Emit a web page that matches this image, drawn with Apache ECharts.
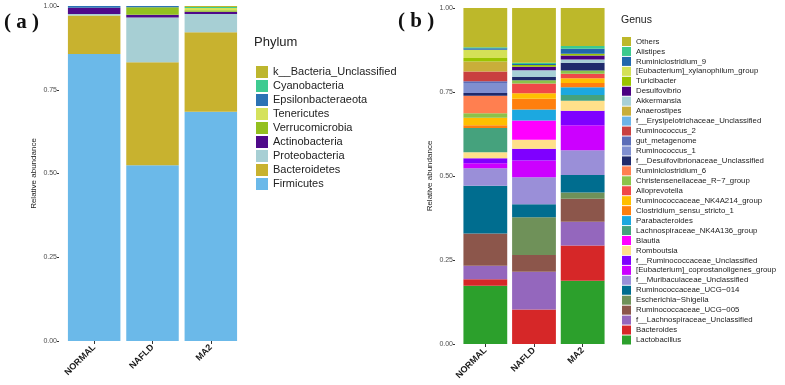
<!DOCTYPE html>
<html>
<head>
<meta charset="utf-8">
<script src="https://cdn.jsdelivr.net/npm/echarts@6/dist/echarts.min.js"></script>
<style>
  html, body { margin: 0; padding: 0; background: #fff; }
  #chart { width: 785px; height: 385px; }
</style>
</head>
<body>
<div id="chart"></div>
<script>
// stacked relative-abundance bars: (a) phylum, (b) genus
const groups = ['NORMAL', 'NAFLD', 'MA2'];
const yTicks = [0, 0.25, 0.5, 0.75, 1];

// ── phylum (bottom of stack first) ────────────────────────────────────
const phylumNames = [
  'Firmicutes', 'Bacteroidetes', 'Proteobacteria', 'Actinobacteria', 'Verrucomicrobia',
  'Tenericutes', 'Epsilonbacteraeota', 'Cyanobacteria', 'k__Bacteria_Unclassified',
];
const phylumColors = [
  '#6bb9e9', '#c8b22f', '#a7cfd4', '#4f0a8a', '#93c01f',
  '#d5e25c', '#2b73b4', '#3ecb91', '#bdb62e',
];
const phylumValues = [
  [0.857, 0.525, 0.684],
  [0.115, 0.307, 0.238],
  [0.004, 0.134, 0.054],
  [0.019, 0.008, 0.007],
  [0.000, 0.022, 0.004],
  [0.000, 0.000, 0.007],
  [0.005, 0.004, 0.000],
  [0.000, 0.000, 0.003],
  [0.000, 0.000, 0.003],
];

// ── genus (bottom of stack first) ─────────────────────────────────────
const genusNames = [
  'Lactobacillus', 'Bacteroides', 'f__Lachnospiraceae_Unclassified', 'Ruminococcaceae_UCG\u2212005',
  'Escherichia\u2212Shigella', 'Ruminococcaceae_UCG\u2212014', 'f__Muribaculaceae_Unclassified',
  '[Eubacterium]_coprostanoligenes_group', 'f__Ruminococcaceae_Unclassified', 'Romboutsia', 'Blautia',
  'Lachnospiraceae_NK4A136_group', 'Parabacteroides', 'Clostridium_sensu_stricto_1',
  'Ruminococcaceae_NK4A214_group', 'Alloprevotella', 'Christensenellaceae_R\u22127_group',
  'Ruminiclostridium_6', 'f__Desulfovibrionaceae_Unclassified', 'Ruminococcus_1', 'gut_metagenome',
  'Ruminococcus_2', 'f__Erysipelotrichaceae_Unclassified', 'Anaerostipes', 'Akkermansia',
  'Desulfovibrio', 'Turicibacter', '[Eubacterium]_xylanophilum_group', 'Ruminiclostridium_9',
  'Alistipes', 'Others',
];
const genusColors = [
  '#2ca02c', '#d62728', '#9467bd', '#8c564b',
  '#6f9159', '#006d8f', '#9a8fd8',
  '#cc00ff', '#7f00ff', '#ffe08a', '#ff00ff',
  '#45a27d', '#1ca8e0', '#ff7f0e',
  '#ffbf00', '#f04848', '#8bc34a',
  '#ff7f50', '#1f2a6b', '#7f8fd0', '#5b6db8',
  '#c94040', '#6cb4e8', '#c9ae3a', '#a8d0d6',
  '#4b0082', '#9ac400', '#d4e157', '#2166ac',
  '#3cc98e', '#bdb82a',
];
const genusValues = [
  [0.173, 0.000, 0.188],
  [0.020, 0.103, 0.105],
  [0.040, 0.112, 0.071],
  [0.096, 0.050, 0.068],
  [0.000, 0.112, 0.019],
  [0.142, 0.039, 0.052],
  [0.052, 0.080, 0.074],
  [0.015, 0.050, 0.074],
  [0.015, 0.035, 0.043],
  [0.018, 0.027, 0.030],
  [0.000, 0.057, 0.000],
  [0.072, 0.000, 0.017],
  [0.000, 0.033, 0.023],
  [0.008, 0.032, 0.013],
  [0.022, 0.016, 0.014],
  [0.000, 0.029, 0.013],
  [0.014, 0.010, 0.010],
  [0.052, 0.000, 0.000],
  [0.008, 0.010, 0.023],
  [0.030, 0.000, 0.000],
  [0.005, 0.000, 0.000],
  [0.029, 0.000, 0.000],
  [0.000, 0.000, 0.000],
  [0.030, 0.000, 0.000],
  [0.000, 0.020, 0.010],
  [0.000, 0.010, 0.012],
  [0.010, 0.005, 0.005],
  [0.025, 0.000, 0.000],
  [0.004, 0.003, 0.015],
  [0.003, 0.004, 0.008],
  [0.118, 0.163, 0.114],
];

const FONT = 'Liberation Sans, Arial, sans-serif';
const axisClr = '#4d4d4d';

function xAxisFor(gridIndex) {
  return {
    type: 'category', gridIndex, data: groups,
    axisLine: { show: false },
    axisTick: { show: true, alignWithLabel: true, length: 3, lineStyle: { color: '#333' } },
    axisLabel: { rotate: 45, margin: 5, fontSize: 9, fontWeight: 'bold', color: '#1a1a1a', fontFamily: FONT },
  };
}
function yAxisFor(gridIndex) {
  return {
    type: 'value', gridIndex, min: 0, max: 1, interval: 0.25, offset: 6,
    name: 'Relative abundance', nameLocation: 'middle', nameGap: 21,
    nameTextStyle: { fontSize: 8, color: '#222', fontFamily: FONT },
    axisLine: { show: false },
    axisTick: { show: true, length: 2, lineStyle: { color: '#333' } },
    axisLabel: { fontSize: 7, color: axisClr, margin: 2, fontFamily: FONT,
                 formatter: v => yTicks.includes(v) ? v.toFixed(2) : '' },
    splitLine: { show: false },
  };
}

const series = [];
phylumNames.forEach((n, i) => series.push({
  name: n, type: 'bar', stack: 'phylum', xAxisIndex: 0, yAxisIndex: 0,
  data: phylumValues[i], itemStyle: { color: phylumColors[i] },
  barCategoryGap: '10%',
}));
genusNames.forEach((n, i) => series.push({
  name: n, type: 'bar', stack: 'genus', xAxisIndex: 1, yAxisIndex: 1,
  data: genusValues[i], itemStyle: { color: genusColors[i] },
  barCategoryGap: '10%',
}));

const chart = echarts.init(document.getElementById('chart'));
chart.setOption({
  backgroundColor: '#fff', animation: false,
  grid: [
    { left: 65, width: 175, top: 6, bottom: 44 },
    { left: 461, width: 146, top: 8, bottom: 41 },
  ],
  xAxis: [xAxisFor(0), xAxisFor(1)],
  yAxis: [yAxisFor(0), yAxisFor(1)],
  legend: [
    {
      data: phylumNames.slice().reverse(), orient: 'vertical', left: 251, top: 61,
      icon: 'rect', itemWidth: 12, itemHeight: 12, itemGap: 2, itemTextGap: 3, selectedMode: false,
      textStyle: { fontSize: 11, color: '#222', fontFamily: FONT, lineHeight: 12 },
    },
    {
      data: genusNames.slice().reverse(), orient: 'vertical', left: 617, top: 32,
      icon: 'rect', itemWidth: 9, itemHeight: 9, itemGap: 0.95, itemTextGap: 3, selectedMode: false,
      textStyle: { fontSize: 7.8, color: '#222', fontFamily: FONT, lineHeight: 9 },
    },
  ],
  graphic: [
    { type: 'text', left: 4, top: 12, style: { text: '( a )', fontSize: 21, fontWeight: 'bold', fill: '#111', fontFamily: 'Liberation Serif, Times New Roman, serif' } },
    { type: 'text', left: 398, top: 11, style: { text: '( b )', fontSize: 21, fontWeight: 'bold', fill: '#111', fontFamily: 'Liberation Serif, Times New Roman, serif' } },
    { type: 'text', left: 254, top: 36, style: { text: 'Phylum', fontSize: 13, fill: '#222', fontFamily: FONT } },
    { type: 'text', left: 621, top: 15, style: { text: 'Genus', fontSize: 10.5, fill: '#222', fontFamily: FONT } },
  ],
  series,
});
</script>
</body>
</html>
